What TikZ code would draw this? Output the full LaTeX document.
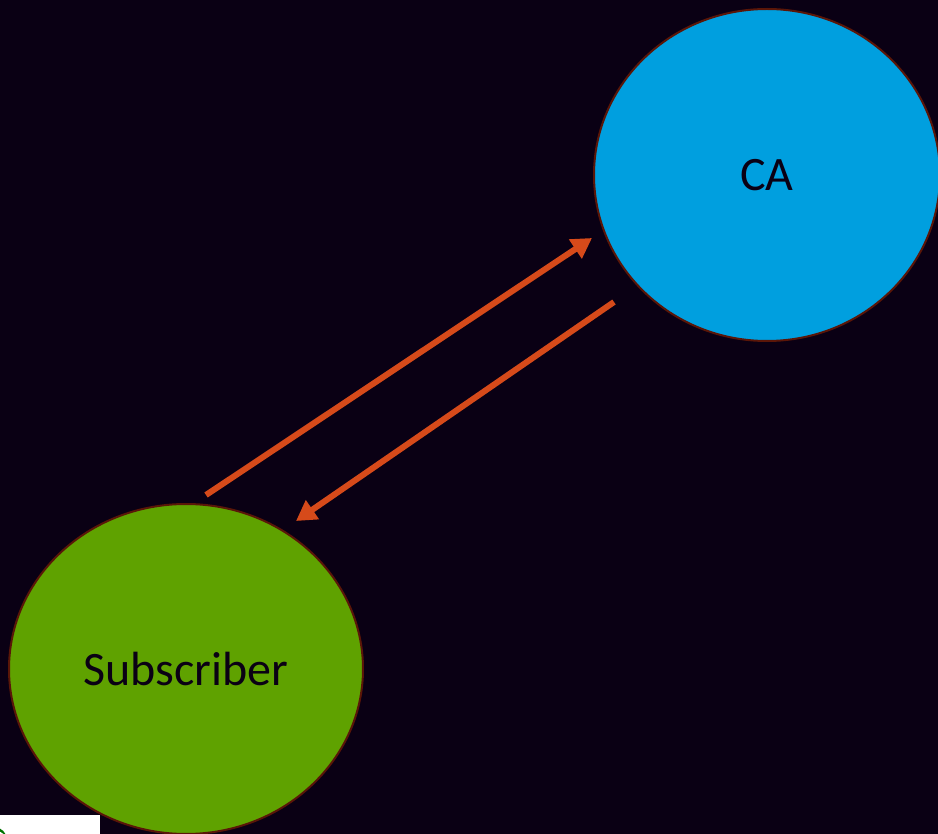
\documentclass[tikz,border=0pt]{standalone}
\usepackage{fontspec}
\setmainfont{Carlito}
\usetikzlibrary{arrows.meta,shapes.geometric}
\definecolor{bgdark}{HTML}{0A0014}
\definecolor{caBlue}{HTML}{009FDF}
\definecolor{subGreen}{HTML}{5FA200}
\definecolor{rimBrown}{HTML}{5A1608}
\definecolor{arrowRed}{HTML}{D64A1A}
\tikzset{
  party/.style={ellipse,draw=rimBrown,line width=2pt,text=bgdark,
    font=\fontsize{48}{56}\selectfont},
  msg/.style={arrowRed,line width=6pt,-{Triangle[length=20pt,width=22pt]}}
}
\begin{document}
\begin{tikzpicture}[x=1pt,y=-1pt]
  \fill[bgdark] (0,0) rectangle (938,834);
  \useasboundingbox (0,0) rectangle (938,834);
  % the two parties
  \node[party,fill=caBlue,minimum width=346pt,minimum height=332pt] (ca) at (767,175) {CA};
  \node[party,fill=subGreen,minimum width=354pt,minimum height=330pt] (sub) at (186,669) {Subscriber};
  % arrow ends
  \coordinate (subOut) at (206,495);
  \coordinate (caIn) at (592,238);
  \coordinate (caOut) at (614,302);
  \coordinate (subIn) at (296,521);
  \draw[msg] (subOut) -- (caIn);
  \draw[msg] (caOut) -- (subIn);
  % corner scrap
  \fill[white] (0,815) rectangle (100,834);
  \begin{scope}
    \clip (0,815) rectangle (100,834);
    \fill[green!45!black] (-6,840) circle (13pt);
    \fill[white] (-4,842) circle (11pt);
  \end{scope}
\end{tikzpicture}
\end{document}
